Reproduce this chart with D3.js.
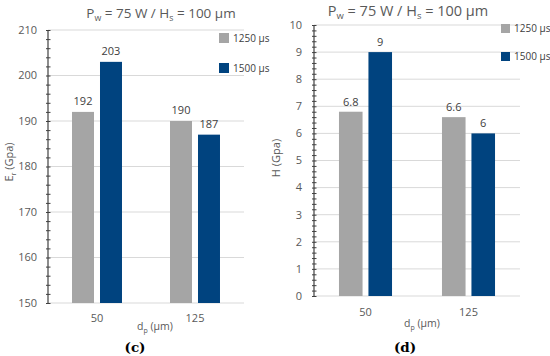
<!DOCTYPE html>
<html>
<head>
<meta charset="utf-8">
<script src="https://cdn.jsdelivr.net/npm/d3@7"></script>
<style>
    body { margin: 0; background: #ffffff; }
    svg text { font-family: "Open Sans", "Noto Sans", sans-serif; }
</style>
</head>
<body>
<svg id="chart" width="550" height="356"></svg>
<script>
// Particle size dp (µm) and the two pulse durations
const categories = ['50', '125'];
const seriesNames = ['1250 µs', '1500 µs'];

// (c) reduced elastic modulus Er (GPa)
const erPulse1250 = [192, 190];
const erPulse1500 = [203, 187];
const erTicks = [150, 160, 170, 180, 190, 200, 210];

// (d) hardness H (GPa)
const hPulse1250 = [6.8, 6.6];
const hPulse1500 = [9, 6];
const hTicks = [0, 1, 2, 3, 4, 5, 6, 7, 8, 9, 10];

const colors = ['#a5a5a5', '#00437f'];
const textColor = '#595959';

const svg = d3.select('#chart');

/**
 * Draw one grouped bar panel
 */
function drawPanel(cfg) {
    const g = svg.append('g');

    const yScale = d3.scaleLinear()
        .domain([cfg.ticks[0], cfg.ticks[cfg.ticks.length - 1]])
        .range([cfg.bottom, cfg.top]);

    const xScale = d3.scaleBand()
        .domain(categories)
        .range([cfg.left, cfg.right])
        .paddingInner(cfg.groupPad)
        .paddingOuter(cfg.groupPad / 2);

    const xInner = d3.scaleBand()
        .domain(seriesNames)
        .range([0, xScale.bandwidth()])
        .paddingInner(cfg.barPad);

    // Gridlines
    g.append('g')
        .selectAll('line')
        .data(cfg.ticks)
        .enter()
        .append('line')
        .attr('x1', cfg.left)
        .attr('x2', cfg.right)
        .attr('y1', d => yScale(d))
        .attr('y2', d => yScale(d))
        .attr('stroke', '#d9d9d9')
        .attr('stroke-width', 1);

    // Bars
    const rows = categories.map((c, i) => ({
        cat: c,
        vals: seriesNames.map((s, j) => ({ series: s, value: cfg.values[j][i], color: colors[j] }))
    }));

    const groups = g.selectAll('.grp')
        .data(rows)
        .enter()
        .append('g')
        .attr('transform', d => `translate(${xScale(d.cat)},0)`);

    groups.selectAll('rect')
        .data(d => d.vals)
        .enter()
        .append('rect')
        .attr('x', d => xInner(d.series))
        .attr('y', d => yScale(d.value))
        .attr('width', xInner.bandwidth())
        .attr('height', d => cfg.bottom - yScale(d.value))
        .attr('fill', d => d.color);

    groups.selectAll('text')
        .data(d => d.vals)
        .enter()
        .append('text')
        .attr('x', d => xInner(d.series) + xInner.bandwidth() / 2)
        .attr('y', d => yScale(d.value) - cfg.labelGap)
        .attr('text-anchor', 'middle')
        .style('font-size', '11px')
        .style('fill', '#404040')
        .text(d => d.value);

    // Minor ticks
    g.append('g')
        .attr('transform', `translate(${cfg.left},0)`)
        .call(d3.axisLeft(yScale)
            .tickValues(d3.range(cfg.ticks[0], cfg.ticks[cfg.ticks.length - 1] + cfg.minor / 2, cfg.minor))
            .tickSize(2.5)
            .tickSizeOuter(0)
            .tickFormat(''))
        .call(a => a.select('.domain').remove())
        .call(a => a.selectAll('line').attr('x2', 2.5).attr('x1', -2).attr('stroke', '#404040'));

    // Y axis line and labels
    g.append('line')
        .attr('x1', cfg.left).attr('x2', cfg.left)
        .attr('y1', cfg.top).attr('y2', cfg.bottom)
        .attr('stroke', '#404040')
        .attr('stroke-width', 1.2);

    g.append('g')
        .selectAll('text')
        .data(cfg.ticks)
        .enter()
        .append('text')
        .attr('x', cfg.tickLabelX)
        .attr('y', d => yScale(d))
        .attr('dy', '0.35em')
        .attr('text-anchor', 'end')
        .style('font-size', '11px')
        .style('fill', textColor)
        .text(d => d);

    // X category labels
    g.append('g')
        .selectAll('text')
        .data(categories)
        .enter()
        .append('text')
        .attr('x', d => xScale(d) + xScale.bandwidth() / 2)
        .attr('y', cfg.catY)
        .attr('text-anchor', 'middle')
        .style('font-size', '11px')
        .style('fill', textColor)
        .text(d => d);

    // X axis title dp (µm)
    const xt = g.append('text')
        .attr('x', cfg.xTitleX)
        .attr('y', cfg.xTitleY)
        .attr('text-anchor', 'middle')
        .style('font-size', '10.5px')
        .style('fill', textColor);
    xt.append('tspan').text('d');
    xt.append('tspan').attr('dy', 2.5).style('font-size', '7px').text('p');
    xt.append('tspan').attr('dy', -2.5).text(' (µm)');

    // Y axis title
    const yt = g.append('text')
        .attr('transform', `translate(${cfg.yTitleX},${cfg.yTitleY}) rotate(-90)`)
        .attr('text-anchor', 'middle')
        .style('font-size', '11px')
        .style('fill', textColor);
    yt.append('tspan').text(cfg.yTitle[0]);
    if (cfg.yTitle[1]) {
        yt.append('tspan').attr('dy', 2.5).style('font-size', '7px').text(cfg.yTitle[1]);
        yt.append('tspan').attr('dy', -2.5).text(cfg.yTitle[2]);
    }

    // Panel title Pw = 75 W / Hs = 100 µm
    const tt = g.append('text')
        .attr('x', cfg.titleX)
        .attr('y', cfg.titleY)
        .attr('text-anchor', 'middle')
        .style('font-size', cfg.titleSize + 'px')
        .style('fill', textColor);
    tt.append('tspan').text('P');
    tt.append('tspan').attr('dy', 3).style('font-size', (cfg.titleSize * 0.65) + 'px').text('w');
    tt.append('tspan').attr('dy', -3).text(' = 75 W / H');
    tt.append('tspan').attr('dy', 3).style('font-size', (cfg.titleSize * 0.65) + 'px').text('s');
    tt.append('tspan').attr('dy', -3).text(' = 100 µm');

    // Legend
    seriesNames.forEach((s, i) => {
        const ly = cfg.legendY + i * cfg.legendStep;
        g.append('rect')
            .attr('x', cfg.legendX)
            .attr('y', ly)
            .attr('width', cfg.legendBox)
            .attr('height', cfg.legendBox)
            .attr('fill', colors[i]);
        g.append('text')
            .attr('x', cfg.legendX + cfg.legendBox + 4)
            .attr('y', ly + cfg.legendBox / 2)
            .attr('dy', '0.35em')
            .style('font-size', '10px')
            .style('fill', '#404040')
            .text(s);
    });

    // Sub-caption
    g.append('text')
        .attr('x', cfg.capX)
        .attr('y', 352)
        .attr('text-anchor', 'middle')
        .style('font-family', '"DejaVu Serif", "Liberation Serif", serif')
        .style('font-weight', 'bold')
        .style('font-size', '13.5px')
        .style('fill', '#000')
        .text(cfg.caption);
}

drawPanel({
    values: [erPulse1250, erPulse1500], ticks: erTicks, minor: 2,
    left: 48, right: 244, top: 30, bottom: 303,
    groupPad: 0.49, barPad: 0.214, labelGap: 7,
    tickLabelX: 37, catY: 322, xTitleX: 155, xTitleY: 330,
    yTitle: ['E', 'r', ' (Gpa)'], yTitleX: 13, yTitleY: 162,
    titleX: 161, titleY: 18, titleSize: 13.5,
    legendX: 219, legendY: 33, legendStep: 30, legendBox: 10,
    caption: '(c)', capX: 135
});

drawPanel({
    values: [hPulse1250, hPulse1500], ticks: hTicks, minor: 0.2,
    left: 314, right: 520, top: 25, bottom: 296,
    groupPad: 0.485, barPad: 0.2, labelGap: 6,
    tickLabelX: 302, catY: 316, xTitleX: 422, xTitleY: 327,
    yTitle: ['H (Gpa)'], yTitleX: 280, yTitleY: 158,
    titleX: 408, titleY: 16, titleSize: 14.5,
    legendX: 501, legendY: 24, legendStep: 28, legendBox: 9,
    caption: '(d)', capX: 405
});
</script>
</body>
</html>
